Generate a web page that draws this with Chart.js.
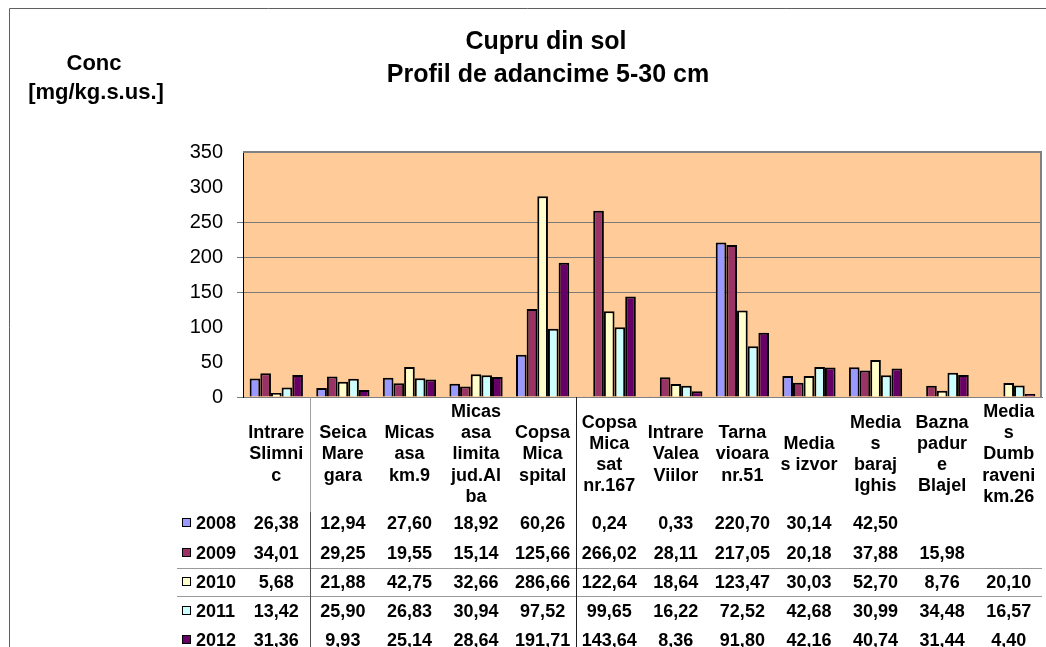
<!DOCTYPE html>
<html>
<head>
<meta charset="utf-8">
<script src="https://cdn.jsdelivr.net/npm/chart.js@4.4.0/dist/chart.umd.min.js"></script>
<style>
    html, body { margin: 0; padding: 0; background: #fff; }
    #wrap { width: 1046px; height: 647px; }
</style>
</head>
<body>
<div id="wrap"><canvas id="cupruChart"></canvas></div>
<script>
const categories = [
    ['Intrare', 'Slimni', 'c'],
    ['Seica', 'Mare', 'gara'],
    ['Micas', 'asa', 'km.9'],
    ['Micas', 'asa', 'limita', 'jud.Al', 'ba'],
    ['Copsa', 'Mica', 'spital'],
    ['Copsa', 'Mica', 'sat', 'nr.167'],
    ['Intrare', 'Valea', 'Viilor'],
    ['Tarna', 'vioara', 'nr.51'],
    ['Media', 's izvor'],
    ['Media', 's', 'baraj', 'Ighis'],
    ['Bazna', 'padur', 'e', 'Blajel'],
    ['Media', 's', 'Dumb', 'raveni', 'km.26']
];
const years = ['2008', '2009', '2010', '2011', '2012'];
const values2008 = [26.38, 12.94, 27.60, 18.92, 60.26, 0.24, 0.33, 220.70, 30.14, 42.50, null, null];
const values2009 = [34.01, 29.25, 19.55, 15.14, 125.66, 266.02, 28.11, 217.05, 20.18, 37.88, 15.98, null];
const values2010 = [5.68, 21.88, 42.75, 32.66, 286.66, 122.64, 18.64, 123.47, 30.03, 52.70, 8.76, 20.10];
const values2011 = [13.42, 25.90, 26.83, 30.94, 97.52, 99.65, 16.22, 72.52, 42.68, 30.99, 34.48, 16.57];
const values2012 = [31.36, 9.93, 25.14, 28.64, 191.71, 143.64, 8.36, 91.80, 42.16, 40.74, 31.44, 4.40];
const seriesValues = [values2008, values2009, values2010, values2011, values2012];
const seriesColors = ['#9999FF', '#993366', '#FFFFCC', '#CCFFFF', '#660066'];
const gridValues = [0, 150, 200, 250];

const FONT = '"Liberation Sans", Arial, sans-serif';

function fmt(v) {
    return v === null ? '' : v.toFixed(2).replace('.', ',');
}

const decorPlugin = {
    id: 'decor',
    beforeDraw(chart) {
        const ctx = chart.ctx;
        const a = chart.chartArea;
        ctx.save();
        ctx.fillStyle = '#ffffff';
        ctx.fillRect(0, 0, chart.width, chart.height);
        // outer frame
        ctx.strokeStyle = '#606060';
        ctx.lineWidth = 1;
        ctx.beginPath();
        ctx.moveTo(9.5, chart.height);
        ctx.lineTo(9.5, 8.5);
        ctx.lineTo(chart.width, 8.5);
        ctx.stroke();
        // plot background
        ctx.fillStyle = '#FFCC99';
        ctx.fillRect(a.left, a.top, a.right - a.left, a.bottom - a.top);
        // titles
        ctx.fillStyle = '#000';
        ctx.textAlign = 'center';
        ctx.textBaseline = 'alphabetic';
        ctx.font = 'bold 25px ' + FONT;
        ctx.fillText('Cupru din sol', 546, 49);
        ctx.fillText('Profil de adancime 5-30 cm', 548, 82);
        ctx.font = 'bold 22px ' + FONT;
        ctx.fillText('Conc', 94, 70);
        ctx.fillText('[mg/kg.s.us.]', 96, 99);
        ctx.restore();
    },
    afterDatasetsDraw(chart) {
        const ctx = chart.ctx;
        const a = chart.chartArea;
        ctx.save();
        ctx.strokeStyle = '#808080';
        ctx.lineWidth = 2;
        ctx.beginPath();
        ctx.moveTo(a.left, a.top);
        ctx.lineTo(a.right - 1, a.top);
        ctx.lineTo(a.right - 1, a.bottom);
        ctx.stroke();
        ctx.restore();
    },
    afterDraw(chart) {
        const ctx = chart.ctx;
        const x = chart.scales.x;
        const a = chart.chartArea;
        const rowY = [523, 553, 582, 611, 640];
        const step = x.getPixelForValue(1) - x.getPixelForValue(0);
        ctx.save();
        // table lines
        ctx.lineWidth = 1;
        ctx.strokeStyle = '#999999';
        ctx.beginPath();
        ctx.moveTo(177, 568.5);
        ctx.lineTo(a.right, 568.5);
        ctx.moveTo(177, 596.5);
        ctx.lineTo(a.right, 596.5);
        ctx.stroke();
        const v1 = Math.round(x.getPixelForValue(0) + step / 2) + 0.5;
        const v2 = Math.round(x.getPixelForValue(4) + step / 2) + 0.5;
        ctx.strokeStyle = '#a0a0a0';
        ctx.beginPath();
        ctx.moveTo(v1, a.bottom);
        ctx.lineTo(v1, 512);
        ctx.stroke();
        ctx.strokeStyle = '#505050';
        ctx.beginPath();
        ctx.moveTo(v1, 512);
        ctx.lineTo(v1, chart.height);
        ctx.stroke();
        ctx.strokeStyle = '#202020';
        ctx.beginPath();
        ctx.moveTo(v2, a.bottom);
        ctx.lineTo(v2, chart.height);
        ctx.stroke();
        // rows
        ctx.font = 'bold 18px ' + FONT;
        ctx.textBaseline = 'middle';
        years.forEach((yr, r) => {
            const y = rowY[r];
            ctx.fillStyle = seriesColors[r];
            ctx.fillRect(182, y - 5, 9, 9);
            ctx.strokeStyle = '#000';
            ctx.strokeRect(182.5, y - 4.5, 8, 8);
            ctx.fillStyle = '#000';
            ctx.textAlign = 'left';
            ctx.fillText(yr, 196, y + 1);
            ctx.textAlign = 'center';
            seriesValues[r].forEach((v, i) => {
                ctx.fillText(fmt(v), x.getPixelForValue(i), y + 1);
            });
        });
        ctx.restore();
    }
};

const ctx = document.getElementById('cupruChart').getContext('2d');
const cupruChart = new Chart(ctx, {
    type: 'bar',
    data: {
        labels: categories,
        datasets: years.map((yr, i) => ({
            label: yr,
            data: seriesValues[i],
            backgroundColor: seriesColors[i],
            borderColor: '#000000',
            borderWidth: 2,
            barPercentage: 1.0,
            categoryPercentage: 0.8
        }))
    },
    options: {
        responsive: true,
        maintainAspectRatio: false,
        animation: false,
        devicePixelRatio: 1,
        layout: {
            padding: { top: 152, right: 4, left: 0, bottom: 0 }
        },
        plugins: {
            legend: { display: false },
            title: { display: false },
            tooltip: { enabled: false }
        },
        scales: {
            x: {
                grid: { display: false, drawTicks: false },
                border: { display: true, color: '#808080', width: 1 },
                ticks: {
                    autoSkip: false,
                    maxRotation: 0,
                    minRotation: 0,
                    crossAlign: 'center',
                    padding: 15,
                    color: '#000',
                    font: { family: FONT, size: 18, weight: 'bold', lineHeight: 1.18 }
                },
                afterFit: function(scale) {
                    scale.height = 250;
                    scale.paddingLeft = 0;
                    scale.paddingRight = 0;
                }
            },
            y: {
                min: 0,
                max: 350,
                ticks: {
                    stepSize: 50,
                    padding: 14,
                    color: '#000',
                    font: { family: FONT, size: 20 }
                },
                grid: {
                    color: (c) => gridValues.includes(c.tick && c.tick.value) ? '#7a7a7a' : 'rgba(0,0,0,0)',
                    tickLength: 6,
                    lineWidth: 1
                },
                border: { display: true, color: '#000000', width: 1 },
                afterFit: function(scale) {
                    scale.width = 243;
                }
            }
        }
    },
    plugins: [decorPlugin]
});
</script>
</body>
</html>
